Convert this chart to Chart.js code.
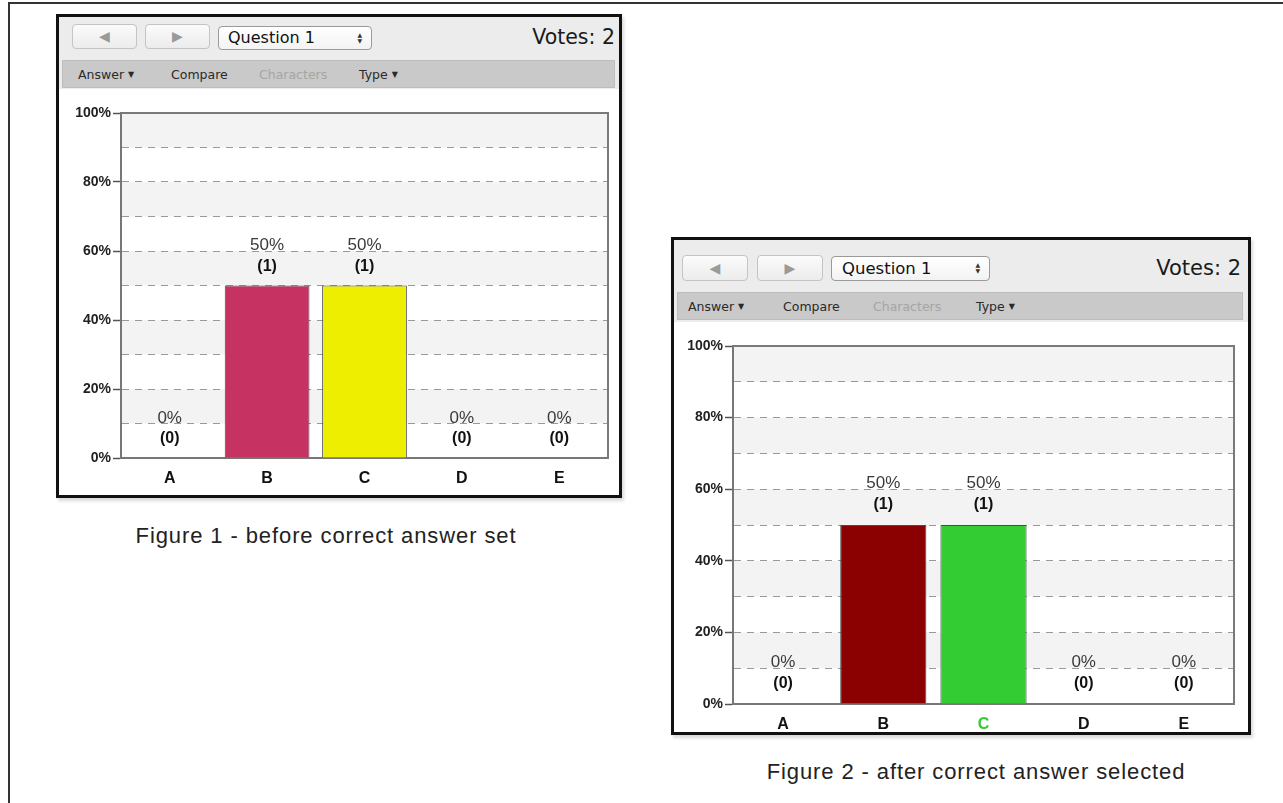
<!DOCTYPE html>
<html>
<head>
<meta charset="utf-8">
<script src="https://cdn.jsdelivr.net/npm/chart.js@4.4.1/dist/chart.umd.min.js"></script>
<style>
  body { margin: 0; width: 1283px; height: 803px; background: #fff; overflow: hidden; position: relative; font-family: "Liberation Sans", Arial, sans-serif; }
  .page-border { position: absolute; left: 8px; top: 2px; width: 1400px; height: 900px; border-left: 2px solid #333; border-top: 2px solid #333; }
  .frame { position: absolute; box-sizing: border-box; border: 3px solid #111; background: #ececec; box-shadow: 2px 3px 3px rgba(0,0,0,0.15); }
  .frame .btn { position: absolute; box-sizing: border-box; border: 1px solid #c4c4c4; border-radius: 4px; background: linear-gradient(#fbfbfb, #ececec); color: #9a9a9a; font-size: 14px; text-align: center; font-family: "DejaVu Sans", sans-serif; }
  .frame .drop { position: absolute; box-sizing: border-box; border: 1px solid #9a9a9a; border-radius: 4px; background: linear-gradient(#ffffff, #f3f3f3); font-family: "DejaVu Sans", sans-serif; color: #111; }
  .frame .drop .arr { position: absolute; right: 9px; top: 5px; font-size: 6px; line-height: 6px; color: #333; }
  .frame .votes { position: absolute; font-family: "DejaVu Sans", sans-serif; color: #1a1a1a; }
  .frame .bar { position: absolute; box-sizing: border-box; background: #c9c9c9; border: 1px solid #bdbdbd; font-family: "DejaVu Sans", sans-serif; font-size: 12.5px; color: #2a2a2a; }
  .frame .bar span { position: absolute; top: 6px; }
  .frame .bar .dis { color: #a5a5a5; }
  .frame .bar i { font-style: normal; font-size: 8px; position: relative; top: -2px; margin-left: 4px; }
  .frame .panel { position: absolute; left: 0; right: 0; bottom: 0; background: #fff; }
  .caption { position: absolute; font-size: 22px; letter-spacing: 0.9px; color: #222; white-space: nowrap; transform: translateX(-50%); }
</style>
</head>
<body>
<div class="page-border"></div>

<div class="frame" style="left:56px; top:14px; width:566px; height:484px;">
  <div class="btn" style="left:13px; top:7px; width:65px; height:25px; line-height:23px;">&#9664;</div>
  <div class="btn" style="left:86px; top:7px; width:65px; height:25px; line-height:23px;">&#9654;</div>
  <div class="drop" style="left:159px; top:9px; width:154px; height:24px; font-size:16px; line-height:22px; padding-left:9px;">Question 1<span class="arr">&#9650;<br>&#9660;</span></div>
  <div class="votes" style="right:4px; top:8px; font-size:20.5px; line-height:24px;">Votes: 2</div>
  <div class="bar" style="left:3px; top:43px; width:553px; height:28px;">
    <span style="left:15px;">Answer<i>&#9660;</i></span>
    <span style="left:108px;">Compare</span>
    <span class="dis" style="left:196px;">Characters</span>
    <span style="left:296px;">Type<i>&#9660;</i></span>
  </div>
  <div class="panel" style="top:72px;"><canvas id="chartBefore" width="558" height="404" style="position:absolute; left:0; top:1px;"></canvas></div>
</div>
<div class="caption" style="left:326px; top:523px;">Figure 1 - before correct answer set</div>

<div class="frame" style="left:671px; top:237px; width:580px; height:498px;">
  <div class="btn" style="left:8px; top:15px; width:66px; height:26px; line-height:24px;">&#9664;</div>
  <div class="btn" style="left:83px; top:15px; width:66px; height:26px; line-height:24px;">&#9654;</div>
  <div class="drop" style="left:157px; top:16px; width:159px; height:25px; font-size:16.5px; line-height:23px; padding-left:10px;">Question 1<span class="arr">&#9650;<br>&#9660;</span></div>
  <div class="votes" style="right:7px; top:16px; font-size:21px; line-height:24px;">Votes: 2</div>
  <div class="bar" style="left:3px; top:52px; width:566px; height:28px;">
    <span style="left:10px;">Answer<i>&#9660;</i></span>
    <span style="left:105px;">Compare</span>
    <span class="dis" style="left:195px;">Characters</span>
    <span style="left:298px;">Type<i>&#9660;</i></span>
  </div>
  <div class="panel" style="top:82px;"><canvas id="chartAfter" width="570" height="410" style="position:absolute; left:0; top:0;"></canvas></div>
</div>
<div class="caption" style="left:976px; top:759px;">Figure 2 - after correct answer selected</div>

<script>
const answers = ['A', 'B', 'C', 'D', 'E'];

// figure 1 - before the correct answer is set
const beforePercent = [0, 50, 50, 0, 0];
const beforeVotes = [0, 1, 1, 0, 0];
const beforeColors = ['#c63362', '#c63362', '#eeee00', '#eeee00', '#eeee00'];

// figure 2 - after C is marked correct
const afterPercent = [0, 50, 50, 0, 0];
const afterVotes = [0, 1, 1, 0, 0];
const afterColors = ['#8b0000', '#8b0000', '#33cc33', '#33cc33', '#33cc33'];
const correctAnswer = 'C';

const FONT = '"Liberation Sans", Arial, sans-serif';

// alternating grey bands every 10%
const bandPlugin = {
    id: 'bands',
    beforeDraw(chart) {
        const {ctx, chartArea: a, scales: {y}} = chart;
        ctx.save();
        ctx.fillStyle = '#fff';
        ctx.fillRect(0, 0, chart.width, chart.height);
        ctx.fillStyle = '#f3f3f3';
        for (let v = 10; v < 100; v += 20) {
            const top = y.getPixelForValue(v + 10);
            const bottom = y.getPixelForValue(v);
            ctx.fillRect(a.left, top, a.right - a.left, bottom - top);
        }
        ctx.restore();
    }
};

// top and right edge of the plot box
const boxPlugin = {
    id: 'box',
    afterDraw(chart) {
        const {ctx, chartArea: a} = chart;
        ctx.save();
        ctx.strokeStyle = '#7a7a7a';
        ctx.lineWidth = 2;
        ctx.beginPath();
        ctx.moveTo(a.left, a.top);
        ctx.lineTo(a.right, a.top);
        ctx.lineTo(a.right, a.bottom);
        ctx.stroke();
        ctx.restore();
    }
};

// "50%" and "(1)" above every bar
const valuePlugin = {
    id: 'values',
    afterDatasetsDraw(chart, args, opts) {
        const {ctx} = chart;
        const ds = chart.data.datasets[0];
        const meta = chart.getDatasetMeta(0);
        ctx.save();
        ctx.textAlign = 'center';
        ctx.textBaseline = 'middle';
        meta.data.forEach((bar, i) => {
            ctx.fillStyle = '#3a3a3a';
            ctx.font = '17px ' + FONT;
            ctx.fillText(ds.data[i] + '%', bar.x, bar.y - opts.pctGap);
            ctx.fillStyle = '#111';
            ctx.font = 'bold 16px ' + FONT;
            ctx.fillText('(' + ds.votes[i] + ')', bar.x, bar.y - opts.voteGap);
        });
        ctx.restore();
    }
};

function makeChart(id, percents, votes, colors, layout) {
    const el = document.getElementById(id);
    return new Chart(el.getContext('2d'), {
        type: 'bar',
        data: {
            labels: answers,
            datasets: [{
                data: percents,
                votes: votes,
                backgroundColor: colors,
                borderColor: '#4a4a4a',
                borderWidth: 1,
                borderSkipped: 'bottom',
                barPercentage: layout.barPct,
                categoryPercentage: 1
            }]
        },
        options: {
            responsive: false,
            animation: false,
            layout: { padding: { top: layout.top, right: layout.right, left: 0, bottom: 0 } },
            plugins: {
                legend: { display: false },
                tooltip: { enabled: false },
                values: { pctGap: layout.pctGap, voteGap: layout.voteGap }
            },
            scales: {
                x: {
                    grid: { display: false, drawTicks: false },
                    border: { color: '#777', width: 2 },
                    ticks: {
                        padding: layout.xPad,
                        font: { family: FONT, size: 16, weight: 'bold' },
                        color: (c) => layout.correct && answers[c.index] === layout.correct ? '#33cc33' : '#111'
                    },
                    afterFit(scale) { scale.height = layout.xHeight; }
                },
                y: {
                    min: 0,
                    max: 100,
                    ticks: {
                        stepSize: 10,
                        autoSkip: false,
                        padding: 2,
                        font: { family: FONT, size: 14, weight: 'bold' },
                        color: '#222',
                        callback: (v) => v % 20 === 0 ? v + '%' : ''
                    },
                    grid: {
                        color: (c) => c.tick.value === 0 || c.tick.value === 100 ? 'rgba(0,0,0,0)' : '#999',
                        lineWidth: 1,
                        tickLength: 8,
                        tickWidth: 1.5,
                        tickBorderDash: [],
                        tickColor: (c) => c.tick.value % 20 === 0 ? '#555' : 'rgba(0,0,0,0)'
                    },
                    border: { color: '#777', width: 2, dash: [7, 6] },
                    afterFit(scale) { scale.width = layout.yWidth; }
                }
            }
        },
        plugins: [bandPlugin, boxPlugin, valuePlugin]
    });
}

makeChart('chartBefore', beforePercent, beforeVotes, beforeColors, {
    top: 23, right: 9, yWidth: 62, xHeight: 36, xPad: 11, barPct: 0.87, pctGap: 40, voteGap: 19, correct: null
});
makeChart('chartAfter', afterPercent, afterVotes, afterColors, {
    top: 24, right: 10, yWidth: 59, xHeight: 28, xPad: 11, barPct: 0.86, pctGap: 42, voteGap: 20, correct: correctAnswer
});
</script>
</body>
</html>
